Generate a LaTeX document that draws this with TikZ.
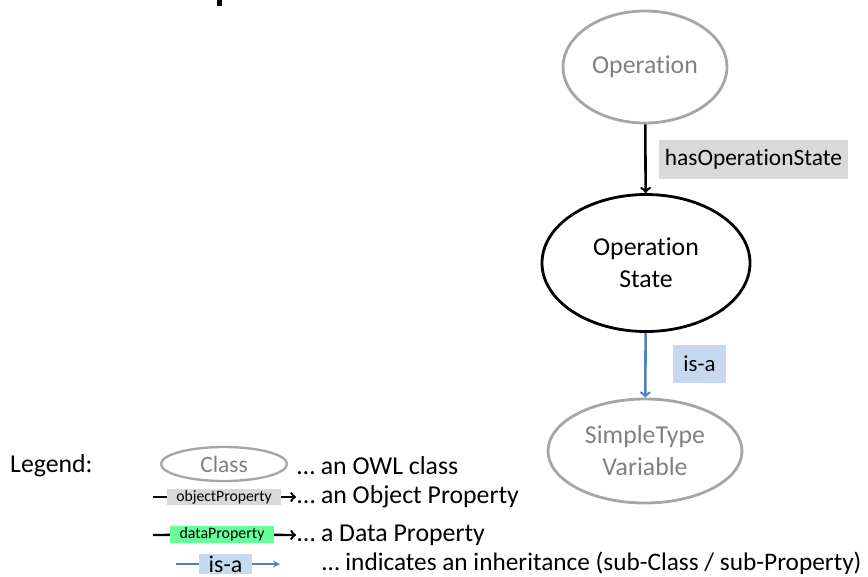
\documentclass[tikz,border=0pt]{standalone}
\usepackage{fontspec}
\setmainfont{Carlito}[Ligatures=NoCommon]
\usepackage{tikz}
\usetikzlibrary{arrows,positioning,shapes.geometric}
\definecolor{classgray}{RGB}{166,166,166}
\definecolor{textgray}{RGB}{128,128,128}
\definecolor{propgray}{RGB}{217,217,217}
\definecolor{isablue}{RGB}{79,129,189}
\definecolor{isafill}{RGB}{198,217,241}
\definecolor{datagreen}{RGB}{102,255,153}

\begin{document}
\begin{tikzpicture}[
x=0.03cm, y=-0.03cm,
font=\fontsize{22}{27.5}\selectfont,
owlclass/.style={ellipse,draw=classgray,line width=2.4pt,text=textgray,inner sep=0pt,align=center},
mainclass/.style={ellipse,draw=black,line width=2.4pt,inner sep=0pt,align=center},
proplabel/.style={rectangle,inner sep=0pt,fill=propgray},
isalabel/.style={rectangle,inner sep=0pt,fill=isafill},
objarrow/.style={->,line width=2.2pt,>=to},
isaarrow/.style={->,line width=2.2pt,draw=isablue,>=to},
legendtext/.style={anchor=west,inner sep=0pt}
]
    % frame of the picture
    \useasboundingbox (0,0) rectangle (868,576);
    \fill (217,0) rectangle (222,6);

    % Draw the classes
    \node (op) [owlclass, minimum width=4.92cm, minimum height=3.36cm] at (645,67) {Operation};
    \node (opstate) [mainclass, minimum width=6.24cm, minimum height=4.11cm] at (646,263) {Operation\\State};
    \node (stv) [owlclass, minimum width=5.82cm, minimum height=3.12cm] at (645,451) {SimpleType\\Variable};

    % properties
    \draw[objarrow] (op) -- (opstate);
    \node (hasopstate) [proplabel, minimum width=5.67cm, minimum height=1.17cm, font=\fontsize{20}{24}\selectfont] at (753.5,159.5) {hasOperationState};
    \draw[isaarrow] (opstate) -- (stv);
    \node (isa) [isalabel, minimum width=1.59cm, minimum height=1.14cm, font=\fontsize{19.5}{22}\selectfont] at (699.5,364) {is-a};

    % Legend
    \node (legend) [legendtext] at (10,466) {Legend:};
    \node (lclass) [owlclass, line width=2pt, minimum width=3.78cm, minimum height=1.02cm, font=\fontsize{20}{24}\selectfont] at (224,464) {Class};
    \node (tclass) [legendtext] at (297,466) {\dots\ an OWL class};

    \coordinate (objstart) at (153,497);
    \coordinate (objend) at (296,497);
    \node (lobj) [proplabel, minimum width=3.42cm, minimum height=0.48cm, font=\fontsize{13.4}{15}\selectfont] at (224,497) {objectProperty};
    \draw[line width=2pt] (objstart) -- (lobj);
    \draw[objarrow, line width=2pt] (lobj) -- (objend);
    \node (tobj) [legendtext, right=1pt of objend] {\dots\ an Object Property};

    \coordinate (datastart) at (153,535);
    \coordinate (dataend) at (296,535);
    \node (ldata) [rectangle, inner sep=0pt, fill=datagreen, minimum width=3.12cm, minimum height=0.51cm, font=\fontsize{13.6}{15}\selectfont] at (222,534.5) {dataProperty};
    \draw[line width=2pt] (datastart) -- (ldata);
    \draw[objarrow, line width=2pt] (ldata) -- (dataend);
    \node (tdata) [legendtext, right=1pt of dataend] {\dots\ a Data Property};

    \coordinate (isastart) at (176,564);
    \coordinate (isaend) at (280,564);
    \node (lisa) [isalabel, minimum width=1.59cm, minimum height=0.6cm, font=\fontsize{20.5}{24}\selectfont] at (225.5,564) {is-a};
    \draw[draw=isablue, line width=1.6pt] (isastart) -- (lisa);
    \draw[isaarrow, line width=1.6pt, >=stealth] (lisa) -- (isaend);
    \node (tisa) [legendtext, font=\fontsize{21.6}{26}\selectfont] at (322,563) {\dots\ indicates an inheritance (sub-Class / sub-Property)};
\end{tikzpicture}
\end{document}
